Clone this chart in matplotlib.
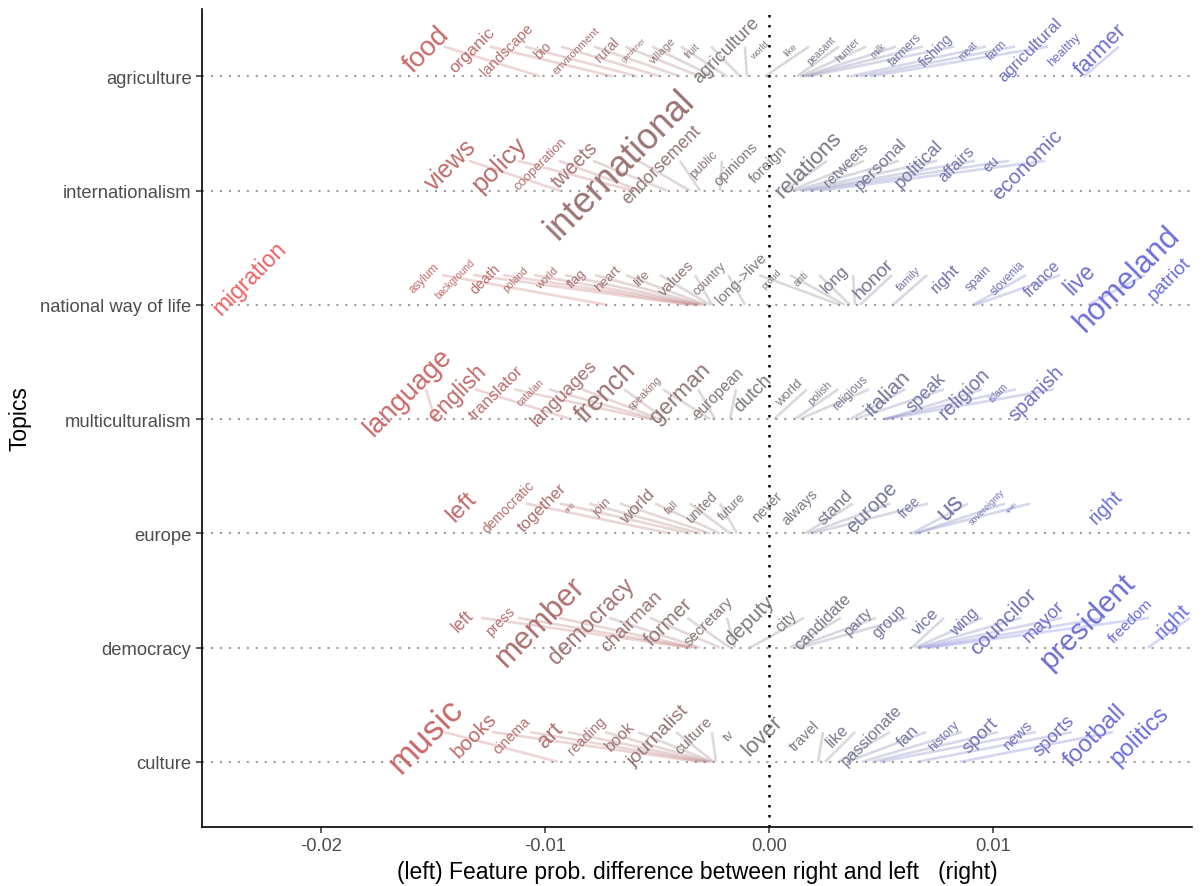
import matplotlib
matplotlib.use("Agg")
import matplotlib.pyplot as plt
from matplotlib.colors import LinearSegmentedColormap, TwoSlopeNorm

plt.rcParams["font.family"] = ["Liberation Sans", "DejaVu Sans"]

TOPICS = ["culture", "democracy", "europe", "multiculturalism",
          "national way of life", "internationalism", "agriculture"]

# label x = prob. difference, anchor = point on the topic line, size = font size
AGRI_WORDS = ["food", "organic", "landscape", "bio", "environment", "rural", "gardener",
              "village", "fruit", "agriculture", "world", "like", "peasant", "hunter",
              "milk", "farmers", "fishing", "meat", "farm", "agricultural", "healthy", "farmer"]
AGRI_DIFF = [-0.01531, -0.01326, -0.01170, -0.01009, -0.00862, -0.00723, -0.00603,
             -0.00473, -0.00339, -0.00188, -0.00040, 0.00098, 0.00232, 0.00353,
             0.00487, 0.00607, 0.00746, 0.00888, 0.01018, 0.01165, 0.01317, 0.01482]
AGRI_ANCHOR = [-0.01022, -0.00696, -0.00589, -0.00487, -0.00397, -0.00308, -0.00250,
               -0.00188, -0.00129, -0.00098, -0.00054, -0.00018, 0.00125, 0.00138,
               0.00152, 0.00161, 0.00174, 0.00362, 0.00406, 0.00451, 0.01299, 0.01406]
AGRI_SIZE = [19.8, 12.5, 10.6, 9.8, 8.0, 10.0, 5.5, 8.2, 7.1, 13.2, 6.5, 6.8, 7.2, 7.6,
             6.9, 8.7, 10.0, 7.2, 8.5, 12.2, 9.2, 16.1]

INTL_WORDS = ["views", "policy", "cooperation", "tweets", "international", "endorsement",
              "public", "opinions", "foreign", "relations", "retweets", "personal",
              "political", "affairs", "eu", "economic"]
INTL_DIFF = [-0.01420, -0.01201, -0.01018, -0.00866, -0.00665, -0.00478, -0.00290,
             -0.00147, -0.00004, 0.00179, 0.00344, 0.00500, 0.00670, 0.00839,
             0.00991, 0.01152]
INTL_ANCHOR = [-0.00933, -0.00607, -0.00576, -0.00455, -0.00353, -0.00308, -0.00219,
               -0.00116, -0.00027, 0.00071, 0.00094, 0.00116, 0.00138, 0.00161,
               0.00183, 0.00228]
INTL_SIZE = [17.8, 18.8, 9.5, 14.1, 25.9, 12.8, 9.3, 10.6, 11.0, 16.1, 10.7, 12.3,
             13.0, 11.6, 10.5, 15.3]

NWOL_WORDS = ["migration", "asylum", "background", "death", "poland", "world", "flag",
              "heart", "life", "values", "country", "long->live", "proud", "anti", "long",
              "honor", "family", "right", "spain", "slovenia", "france", "live",
              "homeland", "patriot"]
NWOL_DIFF = [-0.02317, -0.01540, -0.01402, -0.01268, -0.01129, -0.00991, -0.00857,
             -0.00719, -0.00567, -0.00411, -0.00263, -0.00125, 0.00013, 0.00143,
             0.00295, 0.00469, 0.00625, 0.00786, 0.00933, 0.01067, 0.01219, 0.01388,
             0.01598, 0.01790]
NWOL_ANCHOR = [-0.02317, -0.00723, -0.00353, -0.00330, -0.00317, -0.00308, -0.00295,
               -0.00281, -0.00263, -0.00254, -0.00107, 0.00317, 0.00339, 0.00362,
               0.00384, 0.00406, 0.00554, 0.00786, 0.00920, 0.00911, 0.00920, 0.01388,
               0.01424, 0.01746]
NWOL_SIZE = [16.5, 8.4, 7.1, 10.3, 7.4, 7.8, 9.5, 9.7, 9.5, 10.9, 9.0, 11.0, 6.7, 7.2,
             12.1, 13.9, 8.1, 12.3, 9.4, 8.5, 11.5, 16.3, 22.3, 13.8]

MULTI_WORDS = ["language", "english", "translator", "catalan", "languages", "french",
               "speaking", "german", "european", "dutch", "world", "polish", "religious",
               "italian", "speak", "religion", "islam", "spanish"]
MULTI_DIFF = [-0.01612, -0.01393, -0.01219, -0.01063, -0.00915, -0.00728, -0.00554,
              -0.00397, -0.00228, -0.00071, 0.00089, 0.00228, 0.00366, 0.00527,
              0.00701, 0.00871, 0.01022, 0.01192]
MULTI_ANCHOR = [-0.01491, -0.00884, -0.00531, -0.00509, -0.00487, -0.00464, -0.00263,
                -0.00241, -0.00174, -0.00063, 0.00022, 0.00116, 0.00138, 0.00362,
                0.00384, 0.00518, 0.00513, 0.00522]
MULTI_SIZE = [19.8, 16.3, 12.0, 7.6, 13.4, 19.2, 7.6, 16.1, 11.2, 13.4, 9.7, 8.0, 8.5,
              15.4, 12.9, 14.1, 6.9, 14.5]

EURO_WORDS = ["left", "democratic", "together", "anti", "join", "world", "fall", "united",
              "future", "never", "always", "stand", "europe", "free", "us", "sovereignty",
              "spain", "right"]
EURO_DIFF = [-0.01371, -0.01165, -0.01013, -0.00884, -0.00746, -0.00589, -0.00433,
             -0.00299, -0.00165, -0.00009, 0.00138, 0.00295, 0.00460, 0.00629,
             0.00808, 0.00973, 0.01085, 0.01504]
EURO_ANCHOR = [-0.01371, -0.00442, -0.00353, -0.00308, -0.00263, -0.00219, -0.00174,
               -0.00143, -0.00129, -0.00040, 0.00138, 0.00161, 0.00174, 0.00192,
               0.00638, 0.00652, 0.00652, 0.01504]
EURO_SIZE = [17.5, 9.9, 12.1, 5.0, 9.4, 12.6, 8.0, 9.9, 9.2, 10.5, 10.4, 12.4, 14.7,
             10.2, 18.7, 6.5, 4.0, 14.4]

DEMO_WORDS = ["left", "press", "member", "democracy", "chairman", "former", "secretary",
              "deputy", "city", "candidate", "party", "group", "vice", "wing", "councilor",
              "mayor", "president", "freedom", "right"]
DEMO_DIFF = [-0.01366, -0.01201, -0.01018, -0.00795, -0.00612, -0.00446, -0.00268,
             -0.00089, 0.00076, 0.00241, 0.00397, 0.00536, 0.00701, 0.00871, 0.01045,
             0.01228, 0.01420, 0.01616, 0.01799]
DEMO_ANCHOR = [-0.00353, -0.00344, -0.00330, -0.00308, -0.00219, -0.00174, -0.00152,
               -0.00107, -0.00085, 0.00094, 0.00116, 0.00138, 0.00638, 0.00652, 0.00665,
               0.00674, 0.00696, 0.00719, 0.01692]
DEMO_SIZE = [12.7, 10.2, 22.3, 16.4, 13.8, 14.8, 11.0, 14.9, 11.2, 12.0, 10.9, 11.3,
             12.5, 11.5, 15.4, 13.2, 21.3, 11.0, 15.1]

CULT_WORDS = ["music", "books", "cinema", "art", "reading", "book", "journalist", "culture",
              "tv", "lover", "travel", "like", "passionate", "fan", "history", "sport",
              "news", "sports", "football", "politics"]
CULT_DIFF = [-0.01531, -0.01317, -0.01147, -0.00978, -0.00813, -0.00665, -0.00496,
             -0.00335, -0.00179, -0.00027, 0.00161, 0.00304, 0.00460, 0.00621, 0.00781,
             0.00942, 0.01112, 0.01272, 0.01455, 0.01656]
CULT_ANCHOR = [-0.00942, -0.00308, -0.00286, -0.00272, -0.00263, -0.00254, -0.00246,
               -0.00237, -0.00152, -0.00076, 0.00219, 0.00250, 0.00308, 0.00348, 0.00415,
               0.00460, 0.00496, 0.00661, 0.00853, 0.01656]
CULT_SIZE = [25.0, 14.9, 10.3, 16.0, 10.2, 11.5, 14.0, 11.1, 9.0, 16.0, 10.5, 11.8,
             11.8, 12.3, 9.1, 13.8, 10.9, 13.3, 17.6, 17.3]

ROWS = [
    (CULT_WORDS, CULT_DIFF, CULT_ANCHOR, CULT_SIZE),
    (DEMO_WORDS, DEMO_DIFF, DEMO_ANCHOR, DEMO_SIZE),
    (EURO_WORDS, EURO_DIFF, EURO_ANCHOR, EURO_SIZE),
    (MULTI_WORDS, MULTI_DIFF, MULTI_ANCHOR, MULTI_SIZE),
    (NWOL_WORDS, NWOL_DIFF, NWOL_ANCHOR, NWOL_SIZE),
    (INTL_WORDS, INTL_DIFF, INTL_ANCHOR, INTL_SIZE),
    (AGRI_WORDS, AGRI_DIFF, AGRI_ANCHOR, AGRI_SIZE),
]

LABEL_LIFT = 0.235
SEG_OFFSET_PX = (18, 3)  # segment joins the label a bit right of its centre

cmap = LinearSegmentedColormap.from_list("leftright", ["#f55f5f", "#7a7a7a", "#6a6af0"])
norm = TwoSlopeNorm(vmin=-0.024, vcenter=0.0, vmax=0.019)

fig = plt.figure(figsize=(12.01, 8.87), dpi=100)
ax = fig.add_axes([202 / 1201, 59 / 887, 990 / 1201, 818 / 887])
ax.set_xlim(-0.025313, 0.018884)
ax.set_ylim(0.43, 7.59)

for i in range(len(TOPICS)):
    ax.axhline(i + 1, color="#9e9e9e", lw=1.5, ls=(0, (1, 3.3)), zorder=0)
ax.axvline(0, color="black", lw=1.8, ls=(0, (1, 3.0)), zorder=0)

inv = ax.transData.inverted()

for i, (words, diffs, anchors, sizes) in enumerate(ROWS):
    y = i + 1
    for word, d, a, s in zip(words, diffs, anchors, sizes):
        color = cmap(norm(d))
        ax.text(d, y + LABEL_LIFT, word, fontsize=s, color=color, rotation=45,
                rotation_mode="anchor", ha="center", va="center", zorder=3)

        px, py = ax.transData.transform((a, y))
        cx, cy = ax.transData.transform((d, y + LABEL_LIFT))
        if abs(px - cx) < 12:
            continue
        ex, ey = inv.transform((cx + SEG_OFFSET_PX[0], cy + SEG_OFFSET_PX[1]))
        ax.plot([a, ex], [y, ey], color=color, alpha=0.28, lw=1.9,
                solid_capstyle="butt", zorder=1)

ax.set_yticks(range(1, len(TOPICS) + 1))
ax.set_yticklabels(TOPICS)
ax.set_xticks([-0.02, -0.01, 0.0, 0.01])
ax.set_xticklabels(["-0.02", "-0.01", "0.00", "0.01"])
ax.tick_params(labelsize=13.2, labelcolor="#4d4d4d", length=4, width=1.1, color="#333333")

ax.set_xlabel("(left) Feature prob. difference between right and left   (right)",
              fontsize=16.5, labelpad=4)
ax.set_ylabel("Topics", fontsize=16.5, labelpad=6)

ax.spines["top"].set_visible(False)
ax.spines["right"].set_visible(False)
ax.spines["left"].set_linewidth(1.2)
ax.spines["bottom"].set_linewidth(1.2)

fig.savefig("out.png", dpi=100)
